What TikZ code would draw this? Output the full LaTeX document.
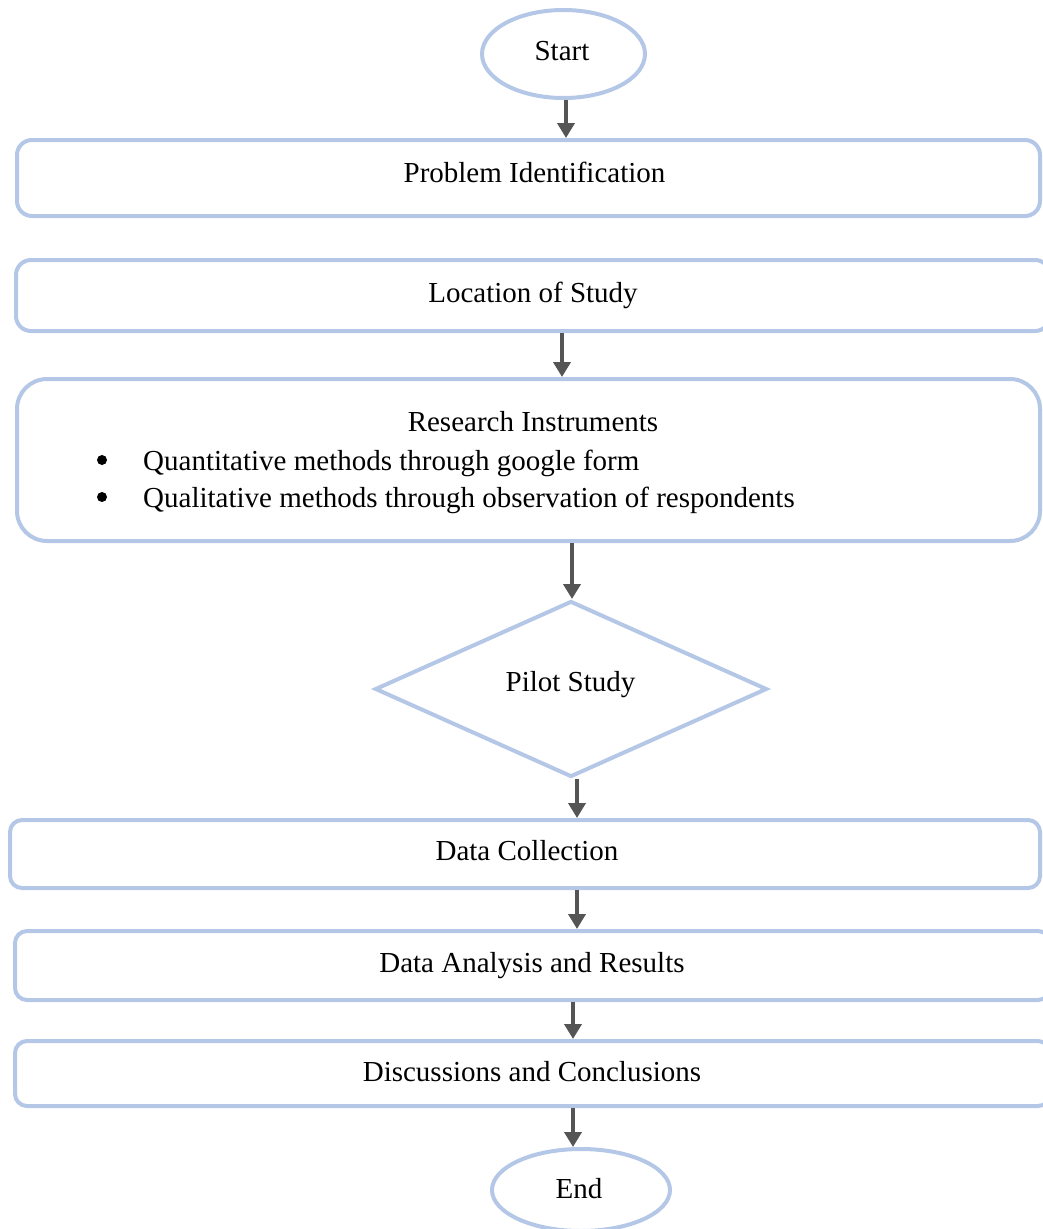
\documentclass[tikz,border=0pt]{standalone}
\usepackage{fontspec}
\setmainfont{Liberation Serif}
\usetikzlibrary{shapes.geometric,arrows.meta}
\definecolor{bord}{HTML}{B4C7E7}
\definecolor{arrc}{HTML}{555555}
\tikzset{
  stepbox/.style={draw=bord, line width=4pt, rectangle, rounded corners=15pt, inner sep=0pt},
  term/.style={draw=bord, line width=4pt, ellipse, inner sep=0pt},
  decide/.style={draw=bord, line width=4pt, diamond, inner sep=0pt},
  lbl/.style={anchor=base, inner sep=0pt, font=\fontsize{29}{34}\selectfont},
  lblw/.style={anchor=base west, inner sep=0pt, font=\fontsize{29}{34}\selectfont},
  arr/.style={draw=arrc, line width=4pt, -{Triangle[width=17pt,length=15pt]}}
}
\begin{document}
\begin{tikzpicture}[x=1pt,y=-1pt]
\useasboundingbox (0,0) rectangle (1043,1229);
% shapes
\node[term, minimum width=163pt, minimum height=88pt] (start) at (563.5,54) {};
\node[stepbox, minimum width=1023pt, minimum height=76pt] (b1) at (528.5,178) {};
\node[stepbox, minimum width=1034pt, minimum height=71pt] (b2) at (533,295.5) {};
\node[stepbox, rounded corners=30pt, minimum width=1023pt, minimum height=162pt] (b3) at (528.5,460) {};
\node[decide, minimum width=392pt, minimum height=176pt] (dia) at (571,689) {};
\node[stepbox, rounded corners=12pt, minimum width=1030pt, minimum height=68pt] (b4) at (525,854) {};
\node[stepbox, rounded corners=12pt, minimum width=1035pt, minimum height=69pt] (b5) at (532.5,965.5) {};
\node[stepbox, rounded corners=12pt, minimum width=1035pt, minimum height=65pt] (b6) at (532.5,1073.5) {};
\node[term, minimum width=178pt, minimum height=82pt] (endn) at (581,1190) {};
% labels
\node[lbl] (tstart) at (562,60) {Start};
\node[lbl] (t1) at (534.5,182) {Problem Identification};
\node[lbl] (t2) at (533,302) {Location of Study};
\node[lbl] (t3) at (533,431) {Research Instruments};
\fill (102,460) circle (5pt);
\fill (102,497) circle (5pt);
\node[lblw] (t3a) at (143,470) {Quantitative methods through google form};
\node[lblw] (t3b) at (143,507) {Qualitative methods through observation of respondents};
\node[lbl] (tdia) at (570.5,691) {Pilot Study};
\node[lbl] (t4) at (527,860) {Data Collection};
\node[lbl] (t5) at (532,972) {Data Analysis and Results};
\node[lbl] (t6) at (532,1081) {Discussions and Conclusions};
\node[lbl] (tend) at (579,1198) {End};
% arrow x positions
\coordinate (a1) at (566,0);
\coordinate (a2) at (562,0);
\coordinate (a3) at (572,0);
\coordinate (a4) at (577,0);
\coordinate (a5) at (577,0);
\coordinate (a6) at (573,0);
\coordinate (a7) at (573,0);
% connectors
\draw[arr] (start.south -| a1) -- (b1.north -| a1);
\draw[arr] (b2.south -| a2) -- (b3.north -| a2);
\draw[arr] (b3.south -| a3) -- (dia.north -| a3);
\draw[arr] (dia.south -| a4) -- (b4.north -| a4);
\draw[arr] (b4.south -| a5) -- (b5.north -| a5);
\draw[arr] (b5.south -| a6) -- (b6.north -| a6);
\draw[arr] (b6.south -| a7) -- (endn.north -| a7);
\end{tikzpicture}
\end{document}
